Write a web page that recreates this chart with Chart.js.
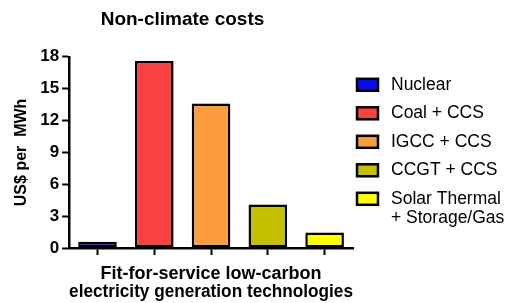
<!DOCTYPE html>
<html>
<head>
<meta charset="utf-8">
<script src="https://cdn.jsdelivr.net/npm/chart.js@4"></script>
<style>
  html, body { margin: 0; padding: 0; background: #fff; }
  #wrap { width: 507px; height: 303px; }
</style>
</head>
<body>
<div id="wrap"><canvas id="chart"></canvas></div>
<script>
const technologies = ['Nuclear', 'Coal + CCS', 'IGCC + CCS', 'CCGT + CCS', ['Solar Thermal', '+ Storage/Gas']]
const costs = [0.6, 17.6, 13.6, 4.1, 1.45]
const barColors = ['#0a0af5', '#f94242', '#fa9d3e', '#c4bf00', '#ffff00']
const yTicks = [0, 3, 6, 9, 12, 15, 18]

const FONT = "'Liberation Sans', Arial, sans-serif"

// legend drawn by hand so the last entry can wrap onto two lines
const sideLegend = {
  id: 'sideLegend',
  afterDraw(chart) {
    const { ctx, chartArea } = chart
    const x = chartArea.right + 4
    let y = chartArea.top + 28
    ctx.save()
    ctx.font = '17.5px ' + FONT
    ctx.textBaseline = 'middle'
    technologies.forEach((label, i) => {
      ctx.fillStyle = barColors[i]
      ctx.fillRect(x, y - 6, 21, 12)
      ctx.lineWidth = 2.5
      ctx.strokeStyle = '#000'
      ctx.strokeRect(x, y - 6, 21, 12)
      ctx.fillStyle = '#000'
      const lines = Array.isArray(label) ? label : [label]
      lines.forEach((line, j) => ctx.fillText(line, x + 34, y + j * 19))
      y += 28.5
    })
    ctx.restore()
  }
}

new Chart(document.getElementById('chart'), {
  type: 'bar',
  data: {
    labels: technologies.map(t => Array.isArray(t) ? t.join(' ') : t),
    datasets: [{
      data: costs,
      backgroundColor: barColors,
      borderColor: '#000',
      borderWidth: 2.5,
      borderSkipped: false,
      barPercentage: 0.68,
      categoryPercentage: 1
    }]
  },
  options: {
    responsive: true,
    maintainAspectRatio: false,
    animation: false,
    layout: { padding: { left: 12, right: 154, top: 2, bottom: 0 } },
    plugins: {
      legend: { display: false },
      tooltip: { enabled: false },
      title: {
        display: true,
        text: 'Non-climate costs',
        color: '#000',
        font: { family: FONT, size: 19, weight: 'bold' },
        padding: { top: 6, bottom: 26 }
      }
    },
    scales: {
      x: {
        grid: { display: true, drawOnChartArea: false, offset: false, tickLength: 7, tickColor: '#000', tickWidth: 2 },
        border: { color: '#000', width: 2.5 },
        ticks: { display: false },
        title: {
          display: true,
          text: ['Fit-for-service low-carbon', 'electricity generation technologies'],
          color: '#000',
          font: { family: FONT, size: 18, weight: 'bold', lineHeight: 1.0 },
          padding: { top: 10, bottom: 2 }
        }
      },
      y: {
        min: 0,
        max: 18,
        afterBuildTicks: axis => { axis.ticks = yTicks.map(v => ({ value: v })) },
        grid: { drawOnChartArea: false, tickLength: 7, tickColor: '#000', tickWidth: 2 },
        border: { color: '#000', width: 2.5 },
        ticks: { color: '#000', padding: 3, font: { family: FONT, size: 17, weight: 'bold' } },
        title: {
          display: true,
          text: 'US$ per  MWh',
          color: '#000',
          font: { family: FONT, size: 16, weight: 'bold' },
          padding: { top: 0, bottom: 6 }
        }
      }
    }
  },
  plugins: [sideLegend]
})
</script>
</body>
</html>
